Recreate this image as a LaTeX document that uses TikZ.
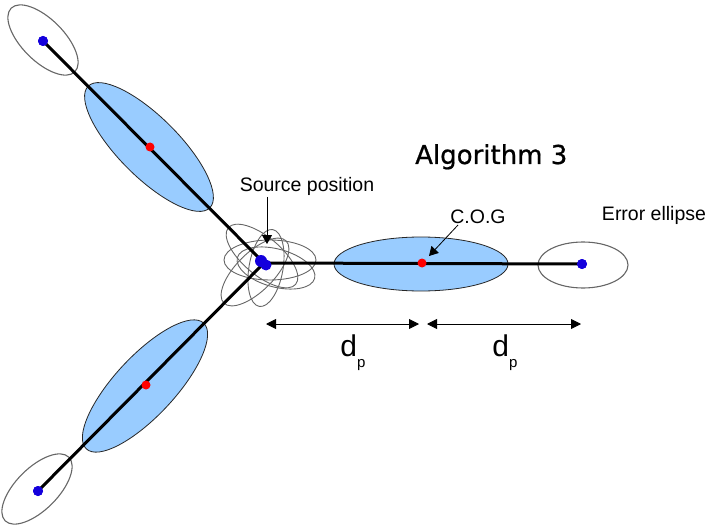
\documentclass[tikz,border=0pt]{standalone}
\usepackage{fontspec}
\setmainfont{Liberation Sans}
\newfontfamily\titlefont[FakeBold=0.8]{DejaVu Sans}
\usetikzlibrary{positioning, arrows.meta, shapes.geometric}
\definecolor{ellblue}{RGB}{153,204,255}
\definecolor{ptblue}{RGB}{20,0,220}

\begin{document}
\begin{tikzpicture}[
        x=1pt, y=-1pt,
        bluedot/.style={circle, fill=ptblue, inner sep=0pt, minimum size=10pt},
        reddot/.style={circle, fill=red, inner sep=0pt, minimum size=9pt},
        cogell/.style={ellipse, draw=black!85, fill=ellblue, line width=0.8pt, inner sep=0pt},
        errell/.style={ellipse, draw=black!60, line width=1.1pt, inner sep=0pt},
        srcell/.style={ellipse, draw=black!60, line width=0.9pt, inner sep=0pt, minimum width=88pt, minimum height=38pt},
        beam/.style={line width=3pt},
        pointer/.style={-{Triangle[length=9pt, width=10pt]}, line width=0.8pt},
        dim/.style={{Triangle[length=10pt, width=10pt]}-{Triangle[length=10pt, width=10pt]}, line width=0.9pt},
        lbl/.style={font=\fontsize{19.5}{22}\selectfont, anchor=base, inner sep=0pt}
    ]
    \useasboundingbox (0,0) rectangle (708,529);

    % --- Source position with spread of estimates ---
    \coordinate (src) at (264,263);
    \node[srcell, rotate=0, minimum width=92pt, minimum height=40pt] (s1) at (270,260) {};
    \node[srcell, rotate=45] (s2) at (255,272) {};
    \node[srcell, rotate=-40] (s3) at (262,256) {};
    \node[srcell, rotate=80, minimum width=78pt, minimum height=34pt] (s4) at (266,268) {};
    \node[srcell, rotate=-15, minimum width=80pt] (s5) at (276,268) {};

    % --- Blue ellipses around the C.O.G ---
    \node[cogell, rotate=-45, minimum width=172pt, minimum height=60pt] (e1) at (149,147) {};
    \node[cogell, rotate=47, minimum width=172pt, minimum height=60pt] (e2) at (145,386) {};
    \node[cogell, minimum width=174pt, minimum height=54pt] (e3) at (421,264) {};

    % --- Error ellipses at the end points ---
    \node[errell, rotate=-45, minimum width=90pt, minimum height=42pt] (r1) at (43,40) {};
    \node[errell, rotate=45, minimum width=90pt, minimum height=42pt] (r2) at (37,489) {};
    \node[errell, minimum width=90pt, minimum height=46pt] (r3) at (583,265) {};

    % --- End points and C.O.G points ---
    \node[bluedot] (p1) at (43,41) {};
    \node[bluedot] (p2) at (38,491) {};
    \node[bluedot] (p3) at (582,264) {};
    \draw[beam] (src) -- (p1.center);
    \draw[beam] (src) -- (p2.center);
    \draw[beam] (src) -- (p3.center);
    \node[bluedot] at (p1) {};
    \node[bluedot] at (p2) {};
    \node[bluedot] at (p3) {};
    \node[reddot] (c1) at (150,147) {};
    \node[reddot] (c2) at (146,385) {};
    \node[reddot] (c3) at (422,263) {};
    \node[bluedot, minimum size=12pt] (src1) at (261,261) {};
    \node[bluedot, minimum size=11pt] (src2) at (266,265) {};

    % --- Labels ---
    \node[font=\titlefont\fontsize{26}{28}\selectfont, anchor=base west, inner sep=0pt] (title) at (415,164) {Algorithm 3};
    \node[lbl] (srclbl) at (307,192) {Source position};
    \node[lbl] (coglbl) at (478,223) {C.O.G};
    \node[lbl] (errlbl) at (654,220) {Error ellipse};
    \coordinate (srctip) at (267,244);
    \coordinate (cogtip) at (429,256);
    \draw[pointer] ([xshift=-40pt, yshift=-5pt]srclbl.base) -- (srctip);
    \draw[pointer] ([xshift=-20pt, yshift=-2pt]coglbl.base) -- (cogtip);

    % --- Distances d_p ---
    \coordinate (d0) at (266,324);
    \coordinate (d1) at (419,324);
    \coordinate (d2) at (427,324);
    \coordinate (d3) at (581,324);
    \draw[dim] (d0) -- (d1);
    \draw[dim] (d2) -- (d3);
    \node[font=\fontsize{30}{32}\selectfont, anchor=base, inner sep=0pt] (dp1) at (353,356) {d\raisebox{-11pt}{\fontsize{15}{16}\selectfont p}};
    \node[font=\fontsize{30}{32}\selectfont, anchor=base, inner sep=0pt] (dp2) at (505,356) {d\raisebox{-11pt}{\fontsize{15}{16}\selectfont p}};
\end{tikzpicture}
\end{document}
